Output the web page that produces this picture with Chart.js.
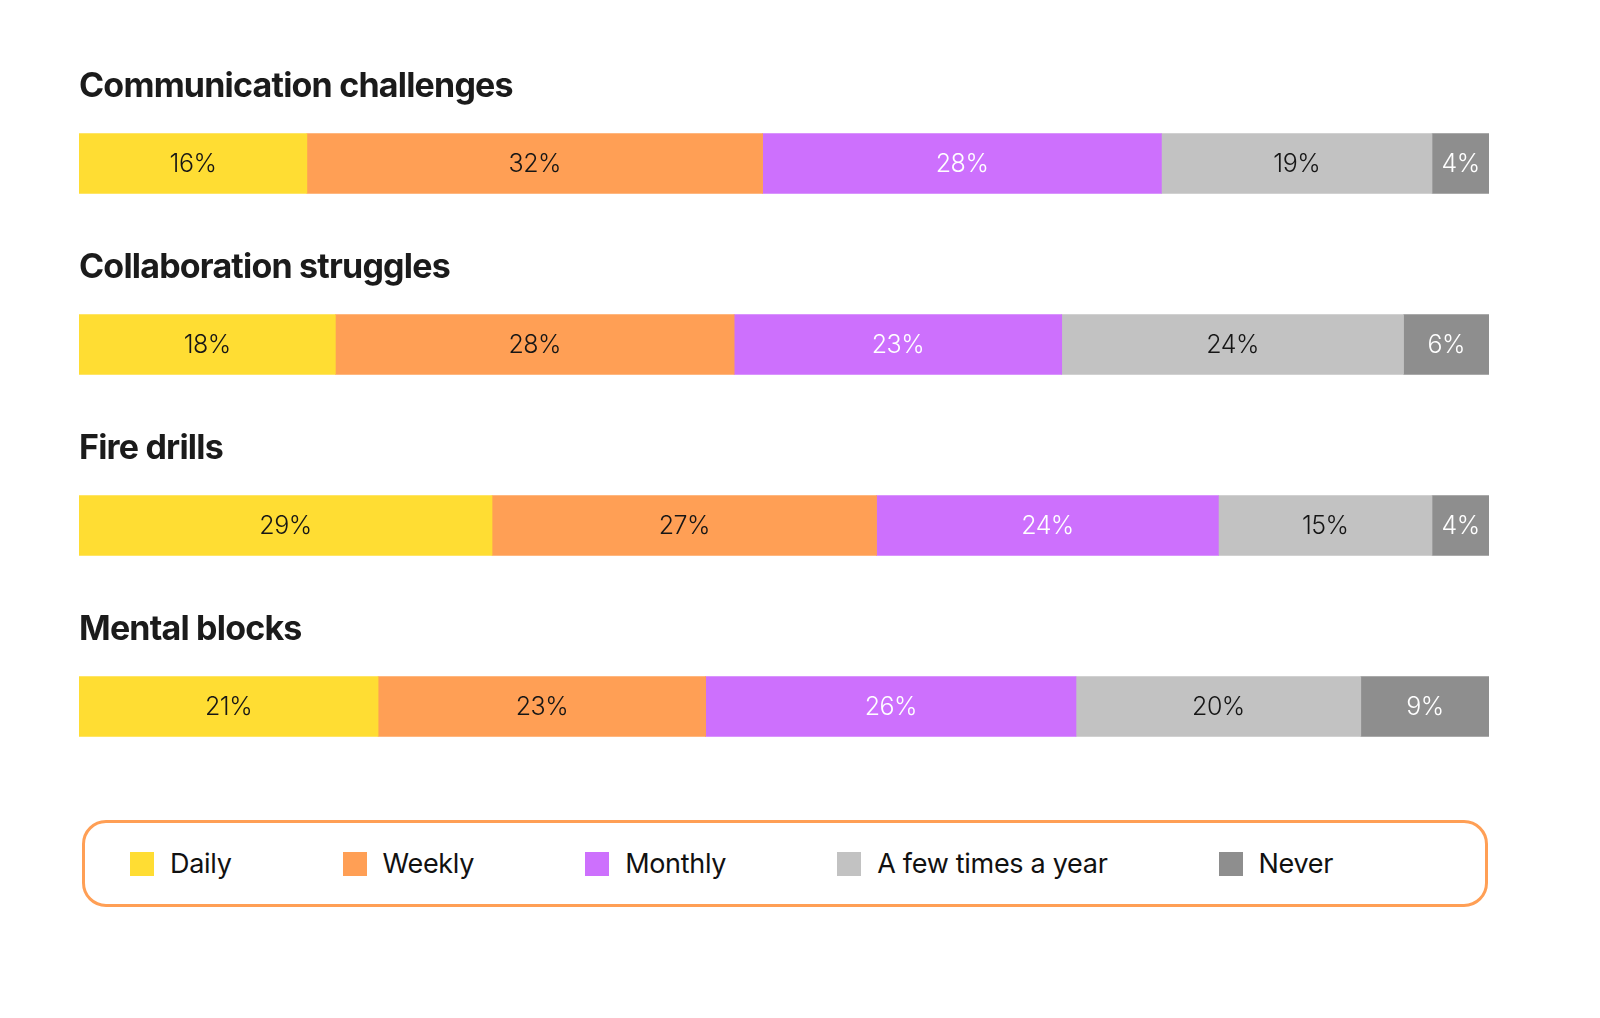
<!DOCTYPE html>
<html>
<head>
<meta charset="utf-8">
<script src="https://cdn.jsdelivr.net/npm/chart.js@4"></script>
<style>
  html, body { margin: 0; padding: 0; background: #fff; }
  body { width: 1600px; height: 1018px; position: relative; overflow: hidden; font-family: Inter, "Noto Sans", sans-serif; }
  #wrap { position: absolute; left: 0; top: 0; width: 1600px; height: 800px; }
  #legend {
    position: absolute; left: 82px; top: 820px; width: 1406px; height: 87px;
    border: 3px solid #FF9F55; border-radius: 24px;
    display: flex; align-items: center; padding-left: 45px; box-sizing: border-box;
  }
  .item { display: flex; align-items: center; margin-right: 111px; font-size: 27px; color: #111; letter-spacing: -0.3px; }
  .swatch { width: 24px; height: 24px; margin-right: 16px; }
</style>
</head>
<body>
<div id="wrap"><canvas id="chart"></canvas></div>
<div id="legend"></div>
<script>
// categories (one bar each) and answer options
const topics = ['Communication challenges', 'Collaboration struggles', 'Fire drills', 'Mental blocks'];
const answers = ['Daily', 'Weekly', 'Monthly', 'A few times a year', 'Never'];
const colors = ['#FFDD33', '#FF9F55', '#CD70FD', '#C2C2C2', '#8E8E8E'];
const labelColors = ['#161616', '#161616', '#ffffff', '#161616', '#ffffff'];

// percent per answer, in topic order
const daily = [16, 18, 29, 21];
const weekly = [32, 28, 27, 23];
const monthly = [28, 23, 24, 26];
const fewTimes = [19, 24, 15, 20];
const never = [4, 6, 4, 9];

const series = [daily, weekly, monthly, fewTimes, never];

// titles sit above each bar
const topicTitles = {
  id: 'topicTitles',
  afterDatasetsDraw(chart) {
    const ctx = chart.ctx;
    const meta = chart.getDatasetMeta(0);
    ctx.save();
    ctx.font = '700 34px Inter, "Noto Sans", sans-serif';
    ctx.letterSpacing = '-0.8px';
    ctx.fillStyle = '#1b1b1b';
    ctx.textAlign = 'left';
    ctx.textBaseline = 'alphabetic';
    meta.data.forEach((bar, i) => {
      const top = bar.y - bar.height / 2;
      ctx.fillText(topics[i], chart.chartArea.left, top - 37);
    });
    ctx.restore();
  }
};

// percent labels in the middle of each segment
const segmentLabels = {
  id: 'segmentLabels',
  afterDatasetsDraw(chart) {
    const ctx = chart.ctx;
    ctx.save();
    ctx.font = '300 25px Inter, "Noto Sans", sans-serif';
    ctx.letterSpacing = '-0.5px';
    ctx.textAlign = 'center';
    ctx.textBaseline = 'middle';
    chart.data.datasets.forEach((ds, di) => {
      const meta = chart.getDatasetMeta(di);
      meta.data.forEach((bar, i) => {
        const c = bar.getCenterPoint();
        ctx.fillStyle = labelColors[di];
        ctx.fillText(ds.data[i] + '%', c.x, c.y + 1);
      });
    });
    ctx.restore();
  }
};

new Chart(document.getElementById('chart'), {
  type: 'bar',
  data: {
    labels: topics,
    datasets: series.map((vals, i) => ({
      label: answers[i],
      data: vals,
      backgroundColor: colors[i],
      borderWidth: 0,
      barThickness: 60
    }))
  },
  options: {
    indexAxis: 'y',
    responsive: true,
    maintainAspectRatio: false,
    animation: false,
    layout: { padding: { left: 79, right: 111, top: 73, bottom: 3 } },
    scales: {
      x: { stacked: true, min: 0, max: 99, display: false },
      y: { stacked: true, display: false }
    },
    plugins: {
      legend: { display: false },
      tooltip: { enabled: false }
    }
  },
  plugins: [topicTitles, segmentLabels]
});

// legend built from the same answer list
const legend = document.getElementById('legend');
answers.forEach((name, i) => {
  const item = document.createElement('div');
  item.className = 'item';
  item.innerHTML = `<span class="swatch" style="background:${colors[i]}"></span><span>${name}</span>`;
  legend.appendChild(item);
});
</script>
</body>
</html>
